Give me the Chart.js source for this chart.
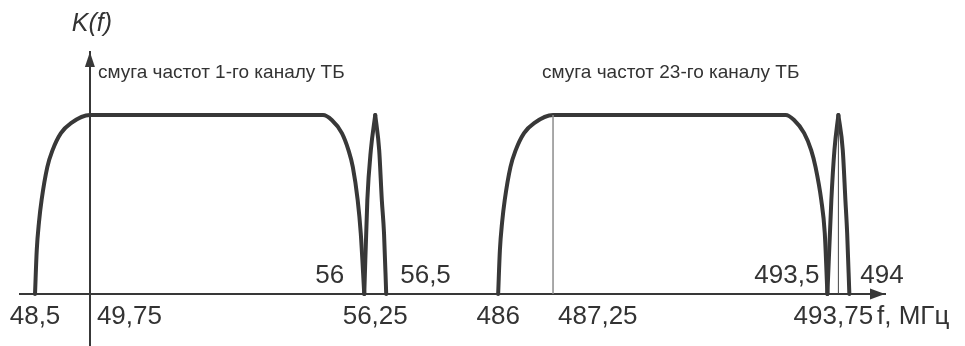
<!DOCTYPE html>
<html><head><meta charset="utf-8">
<script src="https://cdn.jsdelivr.net/npm/chart.js@4/dist/chart.umd.min.js"></script>
<style>html,body{margin:0;padding:0;background:#fff;}#wrap{width:965px;height:346px;position:relative;}</style>
</head><body><div id="wrap"><canvas id="c" width="965" height="346"></canvas></div>
<script>
// Channel 1 pass band (MHz, relative response K)
const ch1BandFreq = [48.5, 48.54, 48.59, 48.65, 48.78, 48.90, 49.09, 49.32, 49.75, 55.06, 55.26, 55.49, 55.64, 55.74, 55.85, 55.92, 56.0];
const ch1BandK    = [0, 0.246, 0.40, 0.525, 0.709, 0.804, 0.899, 0.955, 1, 1, 0.972, 0.899, 0.804, 0.709, 0.525, 0.34, 0];
// Channel 1 sound carrier peak
const ch1PeakFreq = [56.0, 56.07, 56.15, 56.25, 56.34, 56.40, 56.45, 56.5];
const ch1PeakK    = [0, 0.525, 0.804, 1, 0.804, 0.525, 0.34, 0];
// Channel 23 pass band
const ch23BandFreq = [486.0, 486.04, 486.09, 486.15, 486.28, 486.40, 486.59, 486.82, 487.25, 492.55, 492.74, 492.97, 493.13, 493.23, 493.36, 493.44, 493.5];
const ch23BandK    = [0, 0.246, 0.40, 0.525, 0.709, 0.804, 0.899, 0.955, 1, 1, 0.972, 0.899, 0.804, 0.709, 0.525, 0.34, 0];
// Channel 23 sound carrier peak
const ch23PeakFreq = [493.5, 493.59, 493.66, 493.75, 493.85, 493.91, 493.95, 494.0];
const ch23PeakK    = [0, 0.525, 0.804, 1, 0.804, 0.525, 0.34, 0];
// Carrier marker lines
const markerFreqs = [487.25, 493.75];
// Tick labels
const belowTickValues = [48.5, 49.75, 56.25, 486, 487.25, 493.75];
const aboveTickValues = [56, 56.5, 493.5, 494];
const bandTitles = ['смуга частот 1-го каналу ТБ', 'смуга частот 23-го каналу ТБ'];
const yAxisTitle = 'K(f)';
const xAxisTitle = 'f, МГц';
// the frequency axis is broken between the two channels
const axisGapMHz = 426.95;
const toAxis = f => (f > 400 ? f - axisGapMHz : f);
const pts = (fs, ks) => fs.map((f, i) => ({x: toAxis(f), y: ks[i]}));
const fmt = v => String(v).replace('.', ',');

const ink = '#383838';
const curve = (data) => ({data, borderColor: ink, borderWidth: 4, pointRadius: 0, fill: false,
  cubicInterpolationMode: 'monotone', borderCapStyle: 'round', borderJoinStyle: 'round'});

const ch1Peak = pts(ch1PeakFreq, ch1PeakK), ch23Peak = pts(ch23PeakFreq, ch23PeakK);
const datasets = [
  {data: [{x: toAxis(markerFreqs[0]), y: 0}, {x: toAxis(markerFreqs[0]), y: 1}], borderColor: '#8c8c8c', borderWidth: 1.5, pointRadius: 0},
  {data: [{x: toAxis(markerFreqs[1]), y: 0}, {x: toAxis(markerFreqs[1]), y: 1}], borderColor: '#444', borderWidth: 1, pointRadius: 0},
  curve(pts(ch1BandFreq, ch1BandK)),
  curve(ch1Peak.slice(0, 4)),
  curve(ch1Peak.slice(3)),
  curve(pts(ch23BandFreq, ch23BandK)),
  curve(ch23Peak.slice(0, 4)),
  curve(ch23Peak.slice(3)),
];

const FONT = '"Liberation Sans", Arial, sans-serif';
const labelAlign = {below: ['center','left','center','center','left','center'], above: ['right','left','right','left']};
const labelDx = {below: [0, 7, 0, 0, 5, -5], above: [-20, 14, -8, 11]};

const deco = {
  id: 'deco',
  afterDraw(chart) {
    const ctx = chart.ctx, xs = chart.scales.x, ys = chart.scales.y, a = chart.chartArea;
    const x0 = xs.getPixelForValue(49.75), y0 = ys.getPixelForValue(0);
    ctx.save();
    ctx.fillStyle = ink;
    // arrowheads
    ctx.beginPath(); ctx.moveTo(x0, a.top); ctx.lineTo(x0 - 5, a.top + 15); ctx.lineTo(x0 + 5, a.top + 15); ctx.closePath(); ctx.fill();
    ctx.beginPath(); ctx.moveTo(a.right, y0); ctx.lineTo(a.right - 15, y0 - 5.5); ctx.lineTo(a.right - 15, y0 + 5.5); ctx.closePath(); ctx.fill();
    // tick labels
    ctx.fillStyle = '#333';
    ctx.font = '26px ' + FONT;
    ctx.textBaseline = 'alphabetic';
    belowTickValues.forEach((v, i) => {
      ctx.textAlign = labelAlign.below[i];
      ctx.fillText(fmt(v), xs.getPixelForValue(toAxis(v)) + labelDx.below[i], y0 + 30);
    });
    aboveTickValues.forEach((v, i) => {
      ctx.textAlign = labelAlign.above[i];
      ctx.fillText(fmt(v), xs.getPixelForValue(toAxis(v)) + labelDx.above[i], y0 - 11);
    });
    ctx.textAlign = 'left';
    ctx.fillText(xAxisTitle, a.right - 8, y0 + 30);
    // y axis title
    ctx.font = 'italic 25px ' + FONT;
    ctx.textAlign = 'center';
    ctx.fillText(yAxisTitle, x0 + 2, 31);
    // band titles
    ctx.font = '19px ' + FONT;
    ctx.textAlign = 'left';
    ctx.fillText(bandTitles[0], x0 + 8, 78);
    ctx.fillText(bandTitles[1], xs.getPixelForValue(toAxis(487.25)) - 11, 78);
    ctx.restore();
  }
};

new Chart(document.getElementById('c'), {
  type: 'line',
  data: {datasets},
  options: {
    responsive: false, animation: false, events: [],
    layout: {padding: {left: 20, right: 80, top: 52, bottom: 0}},
    plugins: {legend: {display: false}, tooltip: {enabled: false}},
    scales: {
      x: {type: 'linear', min: 48.158, max: 67.862, position: {y: 0},
          grid: {display: false}, ticks: {display: false}, border: {display: true, color: ink, width: 2}},
      y: {type: 'linear', min: -0.2905, max: 1.352, position: {x: 49.75},
          grid: {display: false}, ticks: {display: false}, border: {display: true, color: ink, width: 2}}
    }
  },
  plugins: [deco]
});
</script>
</body></html>
